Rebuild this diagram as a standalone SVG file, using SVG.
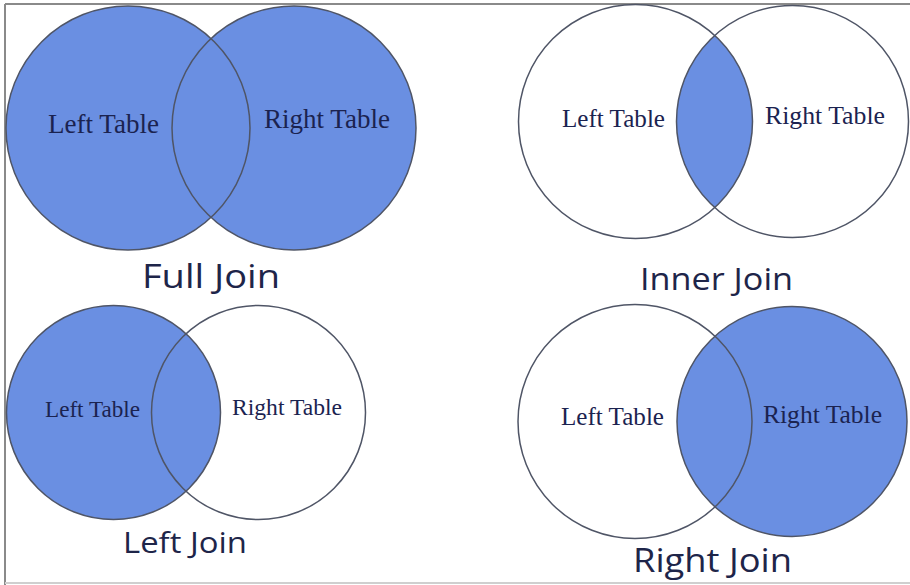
<svg xmlns="http://www.w3.org/2000/svg" width="910" height="585" viewBox="0 0 910 585">
<style>
.bg{fill:#ffffff}
.blue{fill:#6a8fe2;stroke:none}
.white{fill:#ffffff;stroke:none}
.ol{fill:none;stroke:#4f5566;stroke-width:1.5}
.lbl{font-family:"Liberation Serif","DejaVu Serif",serif;fill:#1b2350;text-anchor:middle}
.ttl{font-family:"Open Sans","Lato","Liberation Sans",sans-serif;fill:#1e2549;text-anchor:middle}
.frame{stroke:#8a8a8a;stroke-width:2;fill:none}
</style>
<rect class="bg" x="0" y="0" width="910" height="585"/>
<g id="frame">
<line class="frame" x1="5" y1="4" x2="910" y2="4"/>
<line class="frame" x1="5" y1="4" x2="5" y2="585"/>
<line x1="5" y1="583" x2="910" y2="583" stroke="#cfcfcf" stroke-width="2"/>
</g>

<g id="full-join">
<circle class="blue" cx="128" cy="128" r="122"/>
<circle class="blue" cx="294" cy="128" r="122"/>
<circle class="ol" cx="128" cy="128" r="122"/>
<circle class="ol" cx="294" cy="128" r="122"/>
<text class="lbl" x="103.5" y="133" font-size="26.5" textLength="111" lengthAdjust="spacingAndGlyphs">Left Table</text>
<text class="lbl" x="327" y="128" font-size="26.5" textLength="126" lengthAdjust="spacingAndGlyphs">Right Table</text>
<text class="ttl" x="211" y="288" font-size="32" textLength="138" lengthAdjust="spacingAndGlyphs">Full Join</text>
</g>

<g id="inner-join">
<circle class="white" cx="635.5" cy="121.5" r="117"/>
<circle class="white" cx="792.5" cy="121.5" r="116"/>
<path class="blue" d="M714.74 35.42 A117 117 0 0 1 714.74 207.58 A116 116 0 0 1 714.74 35.42 Z"/>
<circle class="ol" cx="635.5" cy="121.5" r="117"/>
<circle class="ol" cx="792.5" cy="121.5" r="116"/>
<text class="lbl" x="613.5" y="127" font-size="24.5" textLength="103" lengthAdjust="spacingAndGlyphs">Left Table</text>
<text class="lbl" x="825" y="124" font-size="25" textLength="120" lengthAdjust="spacingAndGlyphs">Right Table</text>
<text class="ttl" x="716.5" y="290" font-size="31" textLength="153" lengthAdjust="spacingAndGlyphs">Inner Join</text>
</g>

<g id="left-join">
<circle class="white" cx="258.5" cy="412.5" r="107"/>
<circle class="blue" cx="113.5" cy="412.5" r="107"/>
<circle class="ol" cx="113.5" cy="412.5" r="107"/>
<circle class="ol" cx="258.5" cy="412.5" r="107"/>
<text class="lbl" x="92.5" y="417" font-size="22.6" textLength="95" lengthAdjust="spacingAndGlyphs">Left Table</text>
<text class="lbl" x="287" y="415" font-size="23" textLength="110" lengthAdjust="spacingAndGlyphs">Right Table</text>
<text class="ttl" x="185" y="553" font-size="30" textLength="124" lengthAdjust="spacingAndGlyphs">Left Join</text>
</g>

<g id="right-join">
<circle class="white" cx="635" cy="421.5" r="117"/>
<circle class="blue" cx="792" cy="421.5" r="115"/>
<circle class="ol" cx="635" cy="421.5" r="117"/>
<circle class="ol" cx="792" cy="421.5" r="115"/>
<text class="lbl" x="612.5" y="425" font-size="24.5" textLength="103" lengthAdjust="spacingAndGlyphs">Left Table</text>
<text class="lbl" x="822.5" y="423" font-size="25" textLength="119" lengthAdjust="spacingAndGlyphs">Right Table</text>
<text class="ttl" x="712.5" y="572" font-size="33" textLength="159" lengthAdjust="spacingAndGlyphs">Right Join</text>
</g>

<g id="connectors"></g>
</svg>
